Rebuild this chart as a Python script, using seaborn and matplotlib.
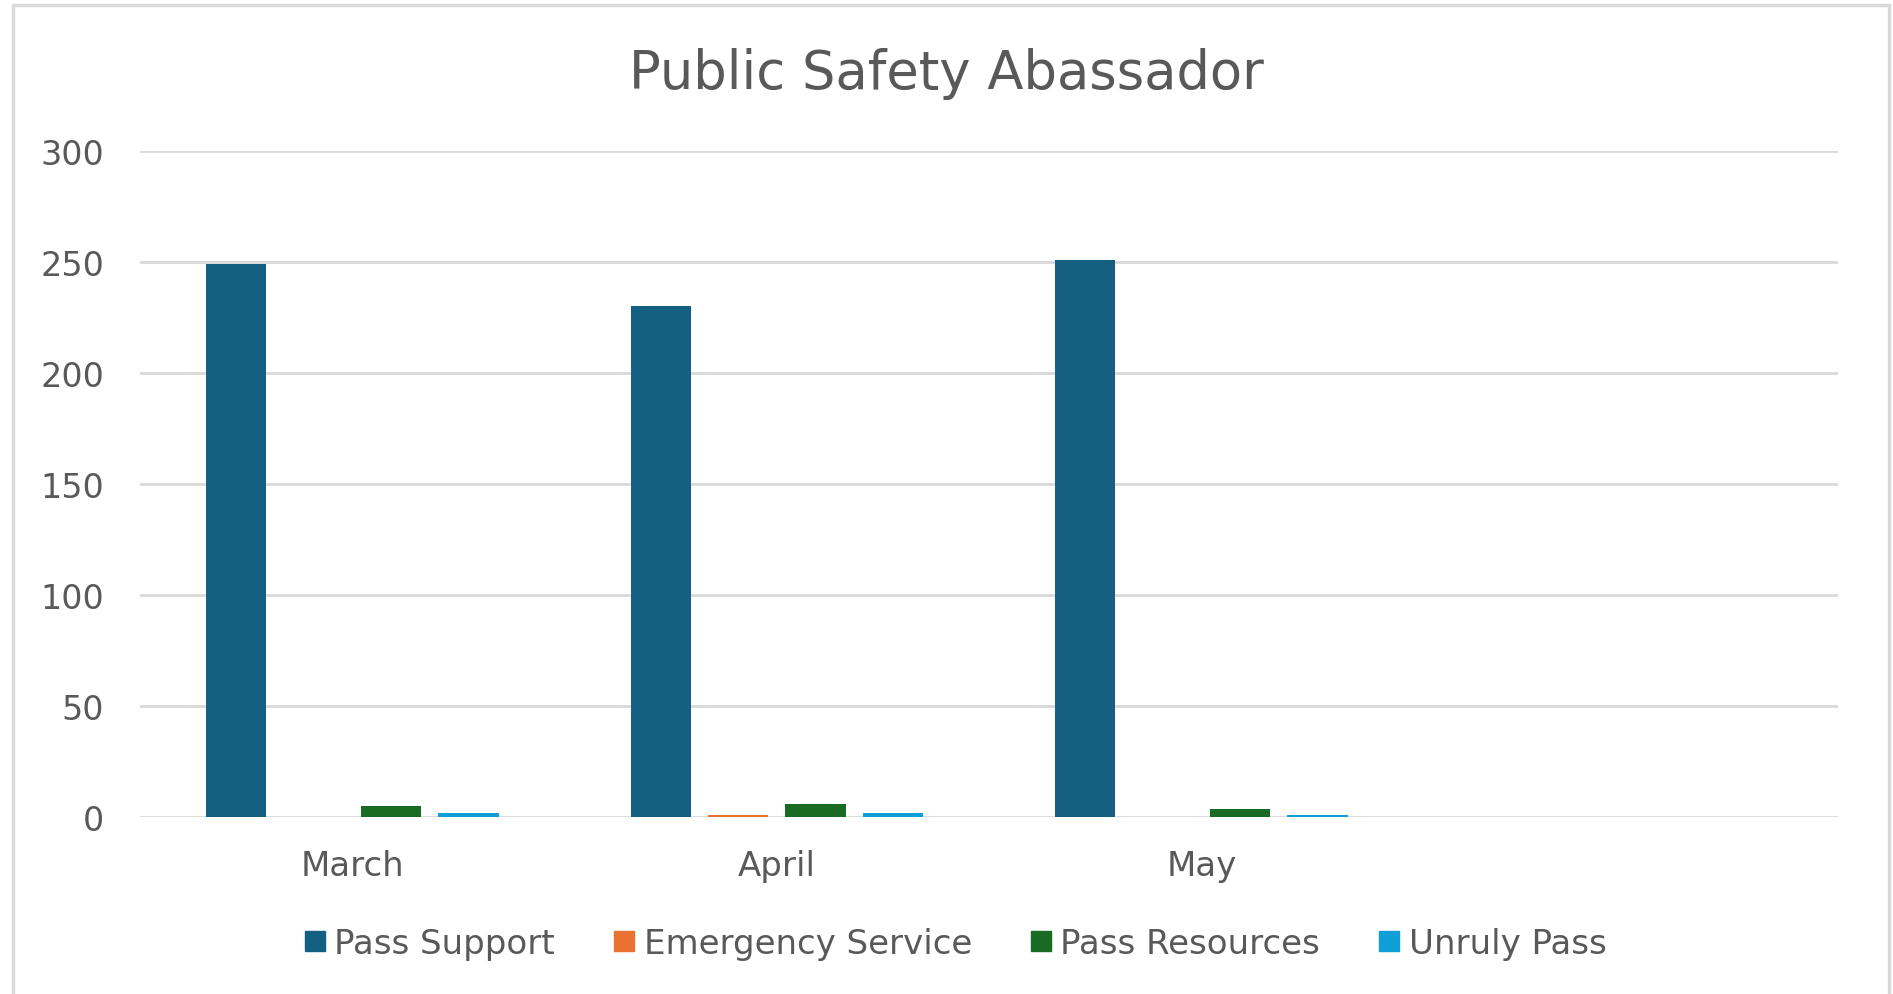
import matplotlib
matplotlib.use("Agg")
import matplotlib.pyplot as plt
from matplotlib.patches import Rectangle
import seaborn as sns
import pandas as pd

# Monthly counts per service category
months = ["March", "April", "May"]
series = ["Pass Support", "Emergency Service", "Pass Resources", "Unruly Pass"]
pass_support = [249, 230, 251]
emergency_service = [0, 1, 0]
pass_resources = [5, 6, 4]
unruly_pass = [2, 2, 1]
colors = ["#156082", "#E97132", "#196B24", "#0F9ED5"]
y_ticks = [0, 50, 100, 150, 200, 250, 300]

values = [pass_support, emergency_service, pass_resources, unruly_pass]
df = pd.DataFrame(
    [(m, s, v[i]) for s, v in zip(series, values) for i, m in enumerate(months)],
    columns=["Month", "Series", "Count"],
)

sns.set_theme(style="white")
plt.rcParams["font.family"] = ["DejaVu Sans"]
text_color = "#595959"
grid_color = "#D9D9D9"

fig = plt.figure(figsize=(18.93, 9.95), dpi=100)
fig.patch.set_facecolor("white")
ax = fig.add_axes([0.074, 0.1774, 0.897, 0.6701])

sns.barplot(
    data=df, x="Month", y="Count", hue="Series",
    order=months, hue_order=series, palette=colors,
    width=0.729, gap=0.22, saturation=1, errorbar=None,
    legend=False, ax=ax, zorder=3, linewidth=0,
)

ax.set_xlim(-0.5, 3.5)
ax.set_ylim(0, 300)
ax.set_yticks(y_ticks)
ax.set_yticklabels([str(t) for t in y_ticks])
ax.set_xlabel("")
ax.set_ylabel("")
ax.yaxis.grid(True, color=grid_color, linewidth=2.0, zorder=0)
ax.xaxis.grid(False)
ax.set_axisbelow(True)
for sp in ax.spines.values():
    sp.set_visible(False)
ax.tick_params(axis="y", length=0, pad=26, labelsize=24, labelcolor=text_color)
ax.tick_params(axis="x", length=0, pad=23, labelsize=24.5, labelcolor=text_color)

fig.text(0.5, 0.926, "Public Safety Abassador", ha="center", va="center",
         fontsize=38, color=text_color)

handles = [plt.Line2D([], [], marker="s", linestyle="none", markersize=14,
                      markerfacecolor=c, markeredgecolor=c) for c in colors]
fig.legend(handles, series, loc="center", bbox_to_anchor=(0.505, 0.051),
           ncol=4, frameon=False, fontsize=24.5, labelcolor=text_color,
           handlelength=0.55, handletextpad=0.3, columnspacing=1.75)

# Light chart-area frame
fig.patches.append(Rectangle((13 / 1893, -0.05), (1889 - 13) / 1893, 1.05 - 6 / 995,
                             transform=fig.transFigure, fill=False,
                             edgecolor=grid_color, linewidth=2.5))

fig.savefig("out.png", dpi=100, facecolor="white")
